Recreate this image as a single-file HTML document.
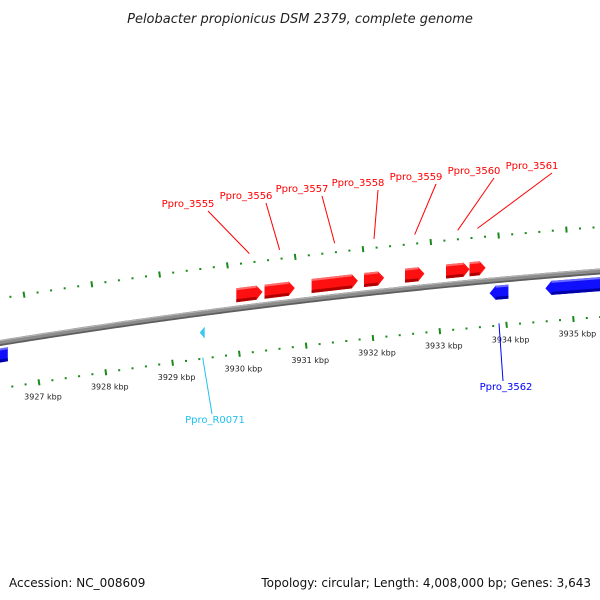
<!DOCTYPE html>
<html><head><meta charset="utf-8"><style>
body{margin:0;background:#fff;}
svg{display:block;font-family:"DejaVu Sans","Liberation Sans",sans-serif;}
</style></head><body>
<svg id="c" width="600" height="600" viewBox="0 0 600 600">
<text x="300" y="23" text-anchor="middle" font-size="13" font-style="italic" fill="#222">Pelobacter propionicus DSM 2379, complete genome</text>
<g id="g"></g>
<text x="9" y="587" font-size="12" fill="#111">Accession: NC_008609</text>
<text x="591" y="587" font-size="12" fill="#111" text-anchor="end">Topology: circular; Length: 4,008,000 bp; Genes: 3,643</text>
</svg>
<script>
const tickKbp=[3926,3927,3928,3929,3930,3931,3932,3933,3934,3935,3936];
const geneNames=["Ppro_3555","Ppro_3556","Ppro_3557","Ppro_3558","Ppro_3559","Ppro_3560","Ppro_3561","Ppro_3562","Ppro_3563","Ppro_3554","Ppro_R0071"];
const geneStart=[3930.04,3930.46,3931.16,3931.94,3932.55,3933.16,3933.51,3933.81,3934.64,3926.2,3929.5];
const geneEnd=[3930.43,3930.91,3931.85,3932.24,3932.84,3933.51,3933.75,3934.09,3935.9,3926.64,3929.58];
const geneStrand=[1,1,1,1,1,1,1,-1,-1,-1,0];
const labelShown=[1,1,1,1,1,1,1,1,0,0,1];
const labelX=[188,246,302,358,416,474,532,506,0,0,215];
const labelY=[207,199,192,186,180,174,169,390,0,0,423];

const NS="http://www.w3.org/2000/svg";
const g=document.getElementById('g');
function cy(x){return 342.5-0.1617*x+7.08e-5*x*x;}
function slope(x){return -0.1617+2*7.08e-5*x;}
function bx(k){return 32+67.2*(k-3927);}
function ux(k){return 24+67.8*(k-3927);}
function lx(k){return 39+66.8*(k-3927);}
function mk(t,a){const e=document.createElementNS(NS,t);for(const k in a)e.setAttribute(k,a[k]);g.appendChild(e);return e;}

// backbone
function bbLine(off,w,col,name){
  let p=[];
  for(let x=-5;x<=605;x+=5)p.push(x+','+(cy(x)+off).toFixed(2));
  const e=mk('polyline',{points:p.join(' '),fill:'none',stroke:col,'stroke-width':w});
  
  
}
bbLine(0.5,6,'#5e5e5e','genome-backbone');
bbLine(-0.3,4,'#8c8c8c','genome-backbone-body');
bbLine(-1.8,1.2,'#b4b4b4','genome-backbone-highlight');

// ticks
function tickRow(fx,off,row){
  for(let i=0;i<tickKbp.length-1;i++){
    for(let j=0;j<5;j++){
      const k=tickKbp[i]+j*0.2;
      const x=fx(k);
      if(x<-5||x>605)continue;
      const y=cy(x)+off;
      const n=-slope(x);
      if(j===0){
        const e=mk('line',{x1:(x-3*n).toFixed(1),y1:(y-3).toFixed(1),x2:(x+3*n).toFixed(1),y2:(y+3).toFixed(1),stroke:'#1a8a1a','stroke-width':2});
        
        
      }else{
        const e=mk('rect',{x:(x-1).toFixed(1),y:(y-1).toFixed(1),width:2,height:2,fill:'#1a8a1a'});
        
        
      }
    }
  }
}
tickRow(ux,-44,'upper');
tickRow(lx,46,'lower');
for(const k of tickKbp){
  const x=lx(k)+4;
  if(x<0||x>600)continue;
  const t=mk('text',{x:x.toFixed(1),y:(cy(x)+64).toFixed(1),'font-size':8,'text-anchor':'middle',fill:'#222'});
  t.textContent=k+' kbp';
  
  
}

// genes
function pts(arr){return arr.map(p=>p[0].toFixed(1)+','+p[1].toFixed(1)).join(' ');}
for(let i=0;i<geneNames.length;i++){
  const x0=bx(geneStart[i]),x1=bx(geneEnd[i]);
  const s=geneStrand[i];
  if(s===0){
    const xm=(x0+x1)/2,y=cy(xm)+20;
    const e=mk('polygon',{points:pts([[xm+2,y-6],[xm+2,y+6],[xm-3,y]]),fill:'#39c6f4'});
    
    
  }else{
    const o1=s>0?-20:6,o2=s>0?-6:20,h=6;
    let p;
    if(s>0){const xa=Math.max(x0,x1-h);
      p=[[x0,cy(x0)+o1],[xa,cy(xa)+o1],[x1,cy(x1)+(o1+o2)/2],[xa,cy(xa)+o2],[x0,cy(x0)+o2]];}
    else{const xa=Math.min(x1,x0+h);
      p=[[x0,cy(x0)+(o1+o2)/2],[xa,cy(xa)+o1],[x1,cy(x1)+o1],[x1,cy(x1)+o2],[xa,cy(xa)+o2]];}
    const col=s>0?'#ff1010':'#1010ff',dk=s>0?'#b00000':'#0000a8',lt=s>0?'#ff6a6a':'#6a6aff';
    const e=mk('polygon',{points:pts(p),fill:col});
    
    
    const a0=x0+(s<0?h:0),a1=x1-(s>0?h:0);
    const d=mk('polygon',{points:pts([[a0,cy(a0)+o2-3],[a1,cy(a1)+o2-3],[a1,cy(a1)+o2],[a0,cy(a0)+o2]]),fill:dk});
    
    
    const l=mk('polygon',{points:pts([[a0,cy(a0)+o1],[a1,cy(a1)+o1],[a1,cy(a1)+o1+2],[a0,cy(a0)+o1+2]]),fill:lt});
    
    
  }
  if(labelShown[i]){
    const xm=(x0+x1)/2;
    const col=s>0?'#ff0000':(s<0?'#0000ff':'#20c0f0');
    const yEnd=s>0?cy(xm)-53:cy(xm)+(s<0?44:45);
    const yStart=s>0?labelY[i]+4:labelY[i]-9;
    const ln=mk('line',{x1:xm.toFixed(1),y1:yEnd.toFixed(1),x2:(labelX[i]+(s>0?20:-3)).toFixed(1),y2:yStart,stroke:col,'stroke-width':1});
    
    
    const t=mk('text',{x:labelX[i],y:labelY[i],'font-size':10,'text-anchor':'middle',fill:col});
    t.textContent=geneNames[i];
    
    
  }
}
</script>
</body></html>
